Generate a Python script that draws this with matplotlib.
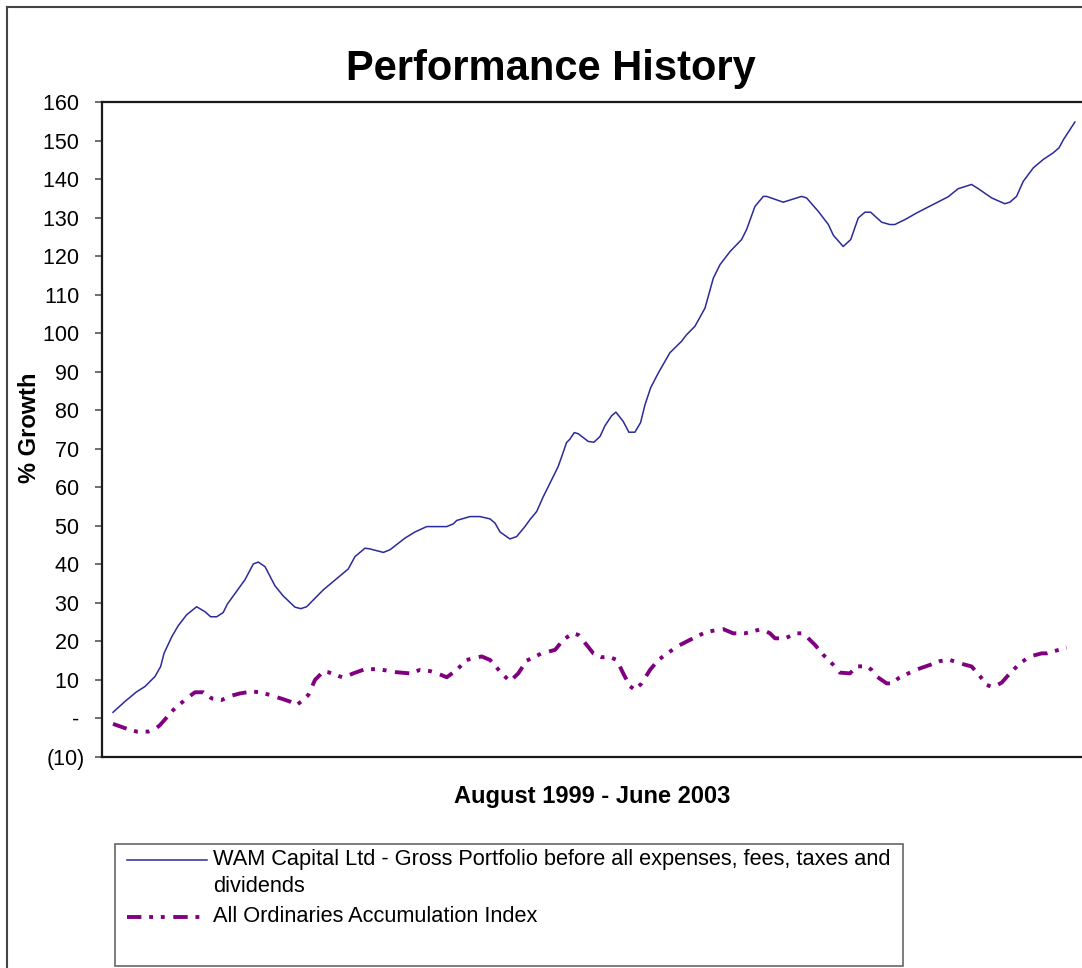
import matplotlib
matplotlib.use('Agg')
import matplotlib.pyplot as plt
from matplotlib.lines import Line2D
from matplotlib.patches import Rectangle

plt.rcParams['font.family'] = ['Liberation Sans', 'DejaVu Sans']

# months since August 1999 (0 = Aug 1999, 46 = Jun 2003)
wam_months = [0.0, 0.57, 1.10, 1.53, 2.01, 2.28, 2.44, 2.81, 3.11, 3.52, 4.00, 4.40, 4.67, 4.96,
              5.27, 5.47, 6.31, 6.71, 6.95, 7.27, 7.75, 8.14, 8.70, 8.98, 9.26, 10.06, 11.25,
              11.57, 12.05, 12.29, 12.93, 13.25, 13.96, 14.44, 15.00, 15.96, 16.27, 16.44, 17.07,
              17.55, 18.03, 18.27, 18.51, 18.98, 19.30, 19.70, 19.94, 20.26, 20.58, 20.90, 21.29,
              21.46, 21.69, 21.85, 22.06, 22.25, 22.73, 23.00, 23.29, 23.53, 23.85, 24.05, 24.40,
              24.67, 24.96, 25.23, 25.44, 25.71, 26.08, 26.63, 27.19, 27.43, 27.83, 28.31, 28.71,
              29.03, 29.51, 30.06, 30.30, 30.70, 31.10, 31.26, 32.05, 32.93, 33.17, 33.73, 34.21,
              34.45, 34.92, 35.28, 35.64, 35.96, 36.23, 36.76, 37.15, 37.39, 37.95, 38.43, 39.94,
              40.42, 41.06, 41.38, 42.02, 42.65, 42.89, 43.21, 43.53, 44.01, 44.49, 44.96, 45.24,
              45.46, 46.0]
wam_growth = [1.6, 4.4, 6.8, 8.3, 10.9, 13.5, 16.9, 21.2, 24.0, 26.9, 29.0, 27.7, 26.4, 26.4,
              27.5, 29.7, 36.0, 40.1, 40.6, 39.4, 34.4, 31.8, 28.9, 28.5, 29.0, 33.4, 38.8,
              42.0, 44.2, 44.0, 43.1, 43.8, 46.8, 48.4, 49.8, 49.8, 50.5, 51.4, 52.4,
              52.4, 51.8, 50.7, 48.4, 46.6, 47.2, 49.8, 51.6, 53.7, 57.6, 61.1, 65.4,
              68.0, 71.6, 72.5, 74.2, 73.9, 71.9, 71.7, 73.2, 76.0, 78.6, 79.5, 77.1,
              74.3, 74.3, 76.8, 81.4, 85.8, 89.7, 94.9, 97.9, 99.6, 101.8, 106.5, 114.3,
              117.8, 121.2, 124.3, 126.9, 132.9, 135.5, 135.5, 134.0, 135.5, 135.1, 131.6, 128.2,
              125.4, 122.5, 124.3, 129.9, 131.4, 131.4, 128.8, 128.2, 128.2, 129.7, 131.2, 135.4,
              137.5, 138.6, 137.5, 135.1, 133.6, 134.0, 135.5, 139.4, 142.9, 145.1, 146.8, 148.1,
              150.3, 154.8]

aoi_months = [0.0, 0.57, 1.13, 1.69, 2.01, 2.25, 2.88, 3.52, 3.92, 4.32, 4.72, 5.20, 5.59, 6.07,
              6.63, 7.03, 7.51, 8.14, 8.46, 8.78, 9.10, 9.34, 9.66, 10.06, 10.30, 11.01, 11.49,
              12.05, 12.69, 13.57, 14.20, 14.68, 15.16, 15.56, 15.96, 16.44, 16.91, 17.63, 18.03,
              18.51, 18.98, 19.38, 19.78, 20.50, 21.14, 21.53, 21.98, 22.25, 22.65, 22.97, 23.37,
              23.77, 24.09, 24.40, 24.72, 24.96, 25.28, 25.68, 26.08, 26.95, 27.59, 28.23, 28.63,
              29.18, 29.66, 30.22, 31.02, 31.42, 31.66, 32.13, 32.69, 33.01, 33.57, 33.97, 34.45,
              34.76, 35.24, 35.56, 36.04, 36.28, 36.52, 37.00, 37.24, 37.55, 38.03, 38.59, 39.07,
              39.55, 40.02, 40.58, 41.06, 41.46, 41.78, 42.09, 42.50, 42.89, 43.37, 43.85, 44.41,
              44.65, 45.60]
aoi_growth = [-1.4, -2.5, -3.4, -3.4, -2.8, -1.7, 2.2, 5.2, 6.8, 6.8, 5.2, 4.8, 5.8, 6.5,
              7.0, 6.8, 6.1, 5.0, 4.4, 3.5, 4.8, 6.1, 10.0, 12.2, 12.0, 10.6, 11.7,
              12.8, 12.8, 12.0, 11.7, 12.6, 12.3, 11.6, 10.7, 12.6, 15.2, 16.1, 15.2,
              12.2, 9.6, 11.7, 15.0, 16.9, 17.8, 20.4, 22.1, 21.7, 19.1, 16.9, 15.9,
              15.9, 15.2, 11.7, 8.4, 7.4, 9.1, 12.6, 15.2, 18.6, 20.4, 22.1, 22.7,
              23.2, 22.1, 22.1, 23.2, 22.1, 20.8, 20.8, 22.1, 22.1, 19.1, 16.5, 13.9,
              11.9, 11.7, 13.5, 13.6, 12.6, 10.9, 9.1, 9.1, 10.4, 11.7, 13.0, 13.9,
              14.9, 15.2, 14.2, 13.5, 11.0, 8.7, 8.1, 9.3, 11.7, 14.3, 16.1, 16.9,
              16.9, 18.4]

y_ticks = list(range(-10, 161, 10))
y_tick_labels = ['(10)', '- '] + ['%d ' % v for v in y_ticks[2:]]

wam_label = 'WAM Capital Ltd - Gross Portfolio before all expenses, fees, taxes and'
wam_label2 = 'dividends'
aoi_label = 'All Ordinaries Accumulation Index'

W, H = 1082, 968
fig = plt.figure(figsize=(W / 100, H / 100), dpi=100)

blue = '#2A2A9C'
purple = '#800080'
aoi_dashes = (3.7, 2.0, 1.0, 2.0, 1.0, 2.2)

ax = fig.add_axes([102 / W, (H - 757) / H, (W - 102) / W, (757 - 102) / H])
ax.plot(wam_months, wam_growth, color=blue, lw=1.1)
ax.plot(aoi_months, aoi_growth, color=purple, lw=2.8,
        dashes=aoi_dashes, dash_capstyle='butt')

ax.set_xlim(-0.526, 46.34)
ax.set_ylim(-10, 160)
ax.set_xticks([])
ax.set_yticks(y_ticks)
ax.set_yticklabels(y_tick_labels, fontsize=15.5)
ax.tick_params(axis='y', length=5, width=1.2, color='#555555', pad=7)
for s in ['left', 'top', 'bottom']:
    ax.spines[s].set_linewidth(1.6)
    ax.spines[s].set_color('#1a1a1a')
ax.spines['right'].set_visible(False)

# outer chart frame
fig.add_artist(Line2D([7 / W, 7 / W], [1 - 7 / H, 0], color='#444444', lw=1.5))
fig.add_artist(Line2D([7 / W, 1], [1 - 7 / H, 1 - 7 / H], color='#444444', lw=1.5))

fig.text(551 / W, 1 - 80 / H, 'Performance History', fontsize=30, fontweight='bold',
         ha='center', va='baseline')
fig.text(30 / W, 1 - 428 / H, '% Growth', fontsize=17, fontweight='bold',
         rotation=90, ha='center', va='center')
fig.text(592 / W, 1 - 797 / H, 'August 1999 - June 2003', fontsize=17, fontweight='bold',
         ha='center', va='center')

# legend box
fig.add_artist(Rectangle((115 / W, 1 - 966 / H), (903 - 115) / W, (966 - 844) / H,
                         transform=fig.transFigure, fill=False, edgecolor='#666666', lw=1.2))
fig.add_artist(Line2D([127 / W, 207 / W], [1 - 860 / H] * 2, color=blue, lw=1.1))
fig.add_artist(Line2D([127 / W, 201 / W], [1 - 917 / H] * 2, color=purple, lw=2.8,
                      dashes=aoi_dashes, dash_capstyle='butt'))
fig.text(213 / W, 1 - 860 / H, wam_label, fontsize=15.7, ha='left', va='center')
fig.text(213 / W, 1 - 886 / H, wam_label2, fontsize=15.7, ha='left', va='center')
fig.text(213 / W, 1 - 917 / H, aoi_label, fontsize=15.7, ha='left', va='center')

fig.savefig('out.png', dpi=100)
